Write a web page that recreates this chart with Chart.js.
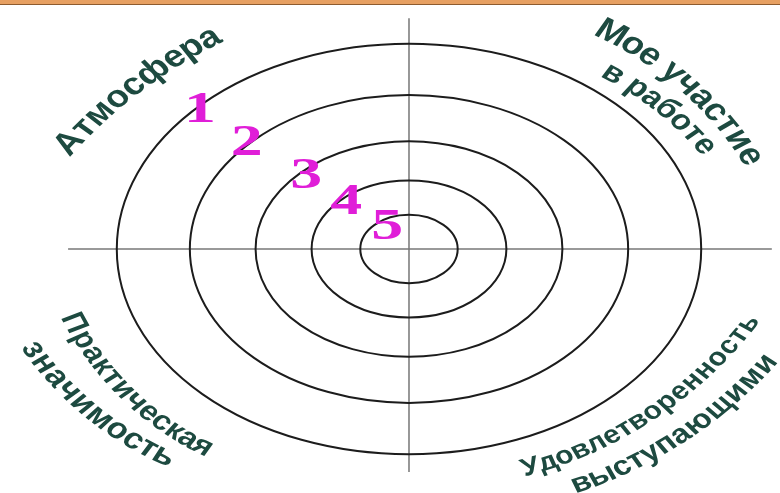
<!DOCTYPE html>
<html>
<head>
<meta charset="utf-8">
<script src="https://cdn.jsdelivr.net/npm/chart.js@4.4.1/dist/chart.umd.min.js"></script>
<style>
  html, body { margin: 0; padding: 0; background: #fff; }
  #wrap { position: relative; width: 780px; height: 493px; overflow: hidden; }
  #topbar { position: absolute; left: 0; top: 0; width: 780px; height: 4px;
            background: #e7a062; border-bottom: 1px solid #8e5b2e; }
</style>
</head>
<body>
<div id="wrap">
  <canvas id="target" width="780" height="493"></canvas>
  <div id="topbar"></div>
</div>
<script>
// rings of the target (same value on both axes)
const ringRadii = [1, 2, 3.15, 4.5, 6];

// the numbered steps
const stepLabels = ['1', '2', '3', '4', '5'];
const stepX = [-4.29, -3.33, -2.11, -1.29, -0.45];
const stepY = [4.06, 3.07, 2.11, 1.35, 0.61];

// cross lines
const axisH = [-7.0, 7.45];
const axisV = [6.75, -6.52];

// sector captions
const captionLines = ['Атмосфера', 'Мое участие', 'в работе', 'Практическая', 'значимость', 'Удовлетворенность', 'выступающими'];
const captionX = [-5.65, 5.71, 5.19, -5.77, -6.5, 4.97, 5.58];
const captionY = [4.78, 4.83, 4.2, -4.24, -4.76, -4.79, -5.44];

// the picture is stretched sideways
const STRETCH = 1.45;
const TEXT_STRETCH = 1.2;

const captionStyle = [
  { angle: -37, radius: 500, mode: 'out', size: 31 },
  { angle: 41, radius: 350, mode: 'out', size: 31 },
  { angle: 38, radius: 320, mode: 'out', size: 28 },
  { angle: 44, radius: 300, mode: 'in', size: 27 },
  { angle: 39, radius: 335, mode: 'in', size: 29 },
  { angle: -33.5, radius: 420, mode: 'in', size: 25 },
  { angle: -33, radius: 450, mode: 'in', size: 27 }
];

function drawArcText(ctx, text, px, py, st) {
  const k = TEXT_STRETCH;
  const th = st.angle * Math.PI / 180;
  const R = st.radius;
  ctx.font = 'bold ' + st.size + 'px "Liberation Sans", Arial, sans-serif';
  const chars = [...text];
  const u0 = Math.atan2(Math.sin(th), Math.cos(th) / k);
  const f = Math.hypot(k * Math.cos(u0), Math.sin(u0));
  const adv = chars.map(c => ctx.measureText(c).width * f);
  const total = adv.reduce((a, b) => a + b, 0);
  let ax, ay, base, dir;
  if (st.mode === 'out') {
    ax = px + R * Math.cos(th + Math.PI / 2);
    ay = py + R * Math.sin(th + Math.PI / 2);
    base = th - Math.PI / 2; dir = 1;
  } else {
    ax = px + R * Math.cos(th - Math.PI / 2);
    ay = py + R * Math.sin(th - Math.PI / 2);
    base = th + Math.PI / 2; dir = -1;
  }
  let s = -total / 2;
  chars.forEach((c, i) => {
    const sm = s + adv[i] / 2;
    const phi = base + dir * sm / R;
    const rot = phi + dir * Math.PI / 2;
    const u = Math.atan2(Math.sin(rot), Math.cos(rot) / k);
    ctx.save();
    ctx.translate(ax + R * Math.cos(phi), ay + R * Math.sin(phi));
    ctx.scale(k, 1);
    ctx.rotate(u);
    ctx.fillText(c, 0, 0);
    ctx.restore();
    s += adv[i];
  });
}

const targetDecor = {
  id: 'targetDecor',
  afterDatasetsDraw(chart) {
    const { ctx, scales: { x, y } } = chart;
    const cx = x.getPixelForValue(0), cy = y.getPixelForValue(0);

    ctx.save();
    ctx.strokeStyle = '#1c1c1c';
    ctx.lineWidth = 2;
    ringRadii.forEach(r => {
      const rx = x.getPixelForValue(r) - cx;
      const ry = cy - y.getPixelForValue(r);
      ctx.beginPath();
      ctx.ellipse(cx, cy, rx, ry, 0, 0, Math.PI * 2);
      ctx.stroke();
    });
    ctx.restore();

    ctx.save();
    ctx.textAlign = 'center';
    ctx.textBaseline = 'middle';
    ctx.fillStyle = '#1d4a40';
    captionLines.forEach((t, i) => {
      drawArcText(ctx, t, x.getPixelForValue(captionX[i]), y.getPixelForValue(captionY[i]), captionStyle[i]);
    });

    ctx.fillStyle = '#e01ed8';
    ctx.font = 'bold 44px "Liberation Serif", "Times New Roman", serif';
    const meta = chart.getDatasetMeta(2);
    meta.data.forEach((pt, i) => {
      ctx.save();
      ctx.translate(pt.x, pt.y);
      ctx.scale(STRETCH, 1);
      ctx.fillText(stepLabels[i], 0, 0);
      ctx.restore();
    });
    ctx.restore();
  }
};

new Chart(document.getElementById('target'), {
  type: 'scatter',
  data: {
    datasets: [
      { data: axisH.map(v => ({ x: v, y: 0 })), showLine: true, borderColor: '#777', borderWidth: 1.5, pointRadius: 0 },
      { data: axisV.map(v => ({ x: 0, y: v })), showLine: true, borderColor: '#777', borderWidth: 1.5, pointRadius: 0 },
      { data: stepX.map((v, i) => ({ x: v, y: stepY[i] })), pointRadius: 0 }
    ]
  },
  options: {
    responsive: false,
    animation: false,
    devicePixelRatio: 1,
    layout: { padding: 0 },
    plugins: { legend: { display: false }, tooltip: { enabled: false } },
    scales: {
      x: { type: 'linear', display: false, min: -8.398, max: 7.618 },
      y: { type: 'linear', display: false, min: -7.135, max: 7.281 }
    }
  },
  plugins: [targetDecor]
});
</script>
</body>
</html>
